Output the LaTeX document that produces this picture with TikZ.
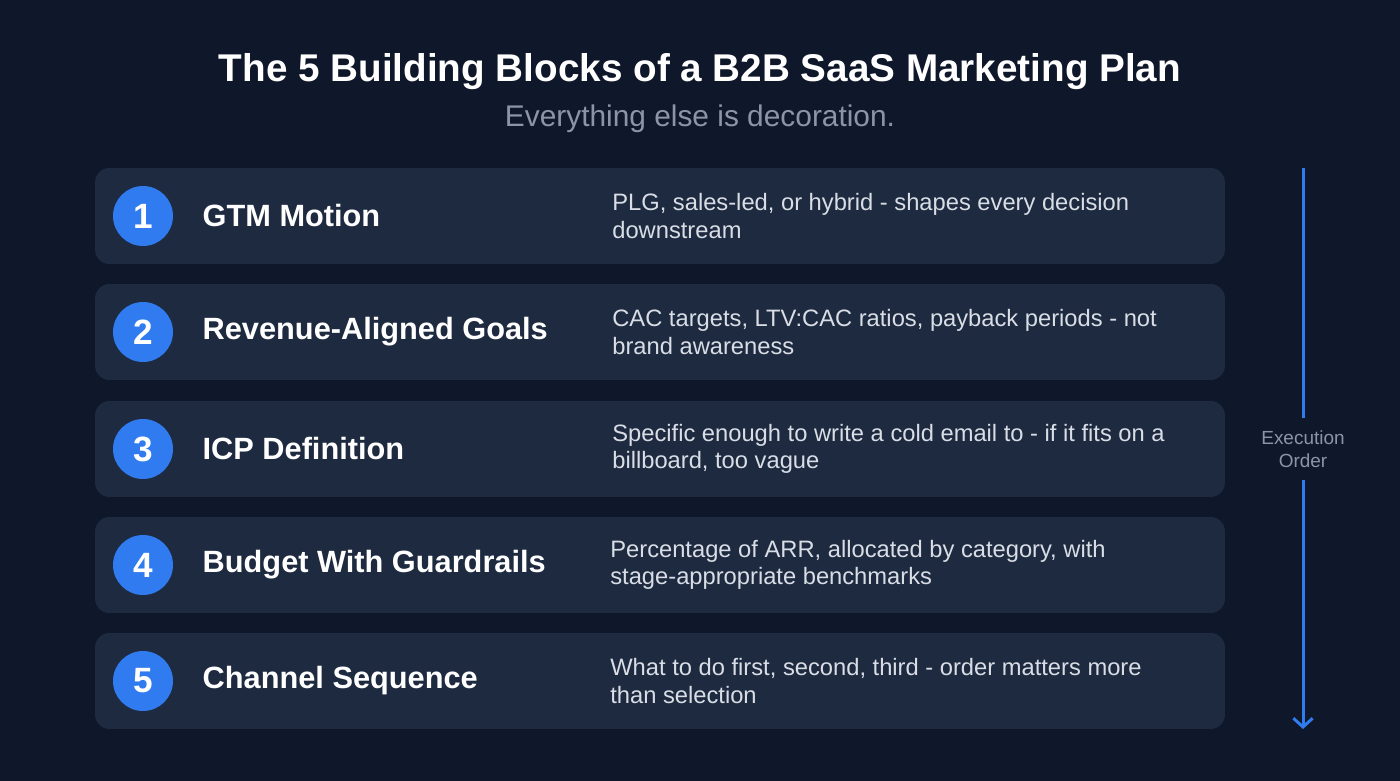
\documentclass[tikz,border=0pt]{standalone}
\usepackage{fontspec}
\setmainfont{Liberation Sans}
\usepackage{tikz}
\usetikzlibrary{positioning,arrows.meta}

\definecolor{bgnavy}{HTML}{0F172A}
\definecolor{cardfill}{HTML}{1E2A40}
\definecolor{stepblue}{HTML}{2F7BEF}
\definecolor{subgray}{HTML}{8C94A6}
\definecolor{desctext}{HTML}{D9DEE6}

\tikzset{
  card/.style={fill=cardfill, rounded corners=0.28cm, minimum width=22.6cm, minimum height=1.92cm, inner sep=0pt},
  numdot/.style={circle, fill=stepblue, minimum size=1.2cm, inner sep=0pt, text=white, font=\bfseries\fontsize{20}{24}\selectfont},
  blocktitle/.style={anchor=west, inner sep=0pt, text=white, font=\bfseries\fontsize{17.5}{21}\selectfont},
  blockdesc/.style={anchor=west, inner sep=0pt, text=desctext, align=left, font=\fontsize{13.5}{15.6}\selectfont},
}

\begin{document}
\begin{tikzpicture}[x=0.02cm,y=-0.02cm]
				\fill[bgnavy] (0,0) rectangle (1400,781);
				% heading
				\node[text=white, font=\bfseries\fontsize{22}{26}\selectfont] (title) at (700,72) {The 5 Building Blocks of a B2B SaaS Marketing Plan};
				\node[text=subgray, font=\fontsize{17}{20}\selectfont] (subtitle) at (700,119) {Everything else is decoration.};
				% cards
				\node[card] (card1) at (660,216) {};
				\node[card] (card2) at (660,332) {};
				\node[card] (card3) at (660,449) {};
				\node[card] (card4) at (660,565) {};
				\node[card] (card5) at (660,681) {};
				% numbers
				\node[numdot] (num1) at (143,216) {1};
				\node[numdot] (num2) at (143,332) {2};
				\node[numdot] (num3) at (143,449) {3};
				\node[numdot] (num4) at (143,565) {4};
				\node[numdot] (num5) at (143,681) {5};
				% block names
				\node[blocktitle, right=0.58cm of num1] (name1) {GTM Motion};
				\node[blocktitle, right=0.58cm of num2] (name2) {Revenue-Aligned Goals};
				\node[blocktitle, right=0.58cm of num3] (name3) {ICP Definition};
				\node[blocktitle, right=0.58cm of num4] (name4) {Budget With Guardrails};
				\node[blocktitle, right=0.58cm of num5] (name5) {Channel Sequence};
				% descriptions
				\node[blockdesc] (desc1) at (612,216) {PLG, sales-led, or hybrid - shapes every decision\\downstream};
				\node[blockdesc] (desc2) at (612,332) {CAC targets, LTV:CAC ratios, payback periods - not\\brand awareness};
				\node[blockdesc] (desc3) at (612,449) {Specific enough to write a cold email to - if it fits on a\\billboard, too vague};
				\node[blockdesc] (desc4) at (610,565) {Percentage of ARR, allocated by category, with\\stage-appropriate benchmarks};
				\node[blockdesc] (desc5) at (610,681) {What to do first, second, third - order matters more\\than selection};
				% execution order
				\coordinate [] (ordertop) at (1303,168) ;
				\coordinate [] (orderend) at (1303,729) ;
				\node[text=subgray, align=center, inner xsep=0pt, inner ysep=7pt, font=\fontsize{10.8}{13}\selectfont] (order) at (1303,449) {Execution\\Order};
				\draw[stepblue, line width=1.7pt] (ordertop) -- (order.north);
				\draw[stepblue, line width=1.7pt, -{Straight Barb[length=5pt,width=11pt]}] (order.south) -- (orderend);
\end{tikzpicture}
\end{document}
